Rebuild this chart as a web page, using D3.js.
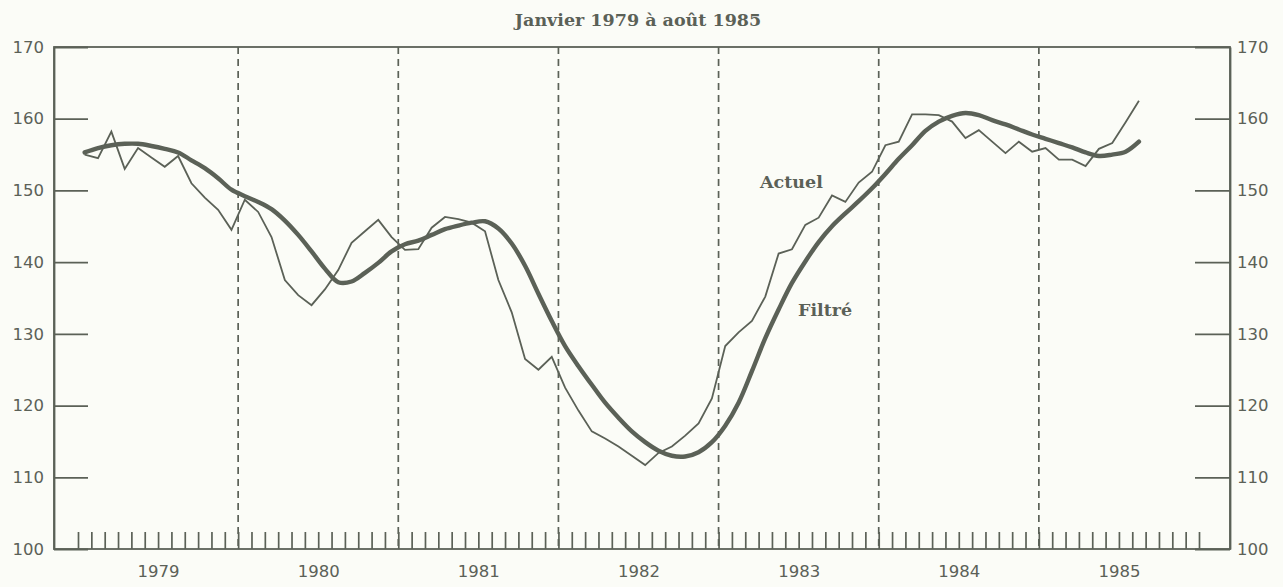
<!DOCTYPE html>
<html>
<head>
<meta charset="utf-8">
<script src="https://cdn.jsdelivr.net/npm/d3@7/dist/d3.min.js"></script>
<style>
  html, body { margin: 0; padding: 0; background: #fbfcf7; }
  svg { display: block; }
</style>
</head>
<body>
<svg id="chart" width="1283" height="587"></svg>
<script>
// ---- Data (monthly, Jan 1979 to Aug 1985) ----
const years = ["1979", "1980", "1981", "1982", "1983", "1984", "1985"];
const yTicks = [100, 110, 120, 130, 140, 150, 160, 170];
const titleText = "Janvier 1979 à août 1985";
const seriesNames = ["Actuel", "Filtré"];

const actual = [
  155.0, 154.5, 158.2, 153.0, 155.9, 154.6, 153.3, 154.8, 151.0, 149.0, 147.3, 144.5, // 1979
  148.7, 147.0, 143.5, 137.5, 135.4, 134.0, 136.2, 138.9, 142.7, 144.3, 145.9, 143.5, // 1980
  141.7, 141.8, 144.8, 146.3, 146.0, 145.5, 144.3, 137.5, 133.0, 126.5, 125.0, 126.8, // 1981
  122.5, 119.3, 116.4, 115.4, 114.3, 113.0, 111.7, 113.4, 114.3, 115.8, 117.5, 121.0, // 1982
  128.3, 130.2, 131.8, 135.2, 141.2, 141.8, 145.2, 146.2, 149.3, 148.4, 151.1, 152.6, // 1983
  156.3, 156.8, 160.6, 160.6, 160.5, 159.6, 157.3, 158.4, 156.8, 155.2, 156.8, 155.4, // 1984
  155.9, 154.3, 154.3, 153.4, 155.8, 156.6, 159.5, 162.5                               // 1985
];

const filtered = [
  155.3, 155.9, 156.3, 156.5, 156.5, 156.2, 155.8, 155.3, 154.2, 153.1, 151.7, 150.1, // 1979
  149.2, 148.4, 147.4, 145.8, 143.8, 141.5, 139.1, 137.2, 137.3, 138.5, 139.9, 141.5, // 1980
  142.5, 143.0, 143.8, 144.6, 145.1, 145.5, 145.7, 144.7, 142.6, 139.5, 135.6, 131.8, // 1981
  128.3, 125.5, 122.9, 120.4, 118.3, 116.4, 114.9, 113.7, 113.0, 112.9, 113.5, 114.9, // 1982
  117.2, 120.4, 124.8, 129.4, 133.4, 137.1, 140.1, 142.8, 145.0, 146.8, 148.5, 150.3, // 1983
  152.3, 154.4, 156.3, 158.3, 159.6, 160.4, 160.8, 160.5, 159.8, 159.2, 158.5, 157.8, // 1984
  157.2, 156.6, 156.0, 155.3, 154.8, 155.0, 155.4, 156.8                               // 1985
];

// ---- Layout ----
const W = 1283, H = 587;
const frame = { left: 54, right: 1230, top: 47, bottom: 549 };
const ink = "#5b6157";
const nMonths = years.length * 12;

const svg = d3.select("#chart");
svg.append("rect").attr("width", W).attr("height", H).attr("fill", "#fbfcf7");

const x = d3.scaleLinear().domain([0, nMonths]).range([78, 1199]);
const y = d3.scaleLinear().domain([100, 170]).range([frame.bottom, frame.top]);

// Frame
svg.append("rect")
  .attr("x", frame.left).attr("y", frame.top)
  .attr("width", frame.right - frame.left)
  .attr("height", frame.bottom - frame.top)
  .attr("fill", "none")
  .attr("stroke", ink).attr("stroke-width", 1.8);

// Left axis
const leftAxis = d3.axisLeft(y).tickValues(yTicks).tickFormat(d3.format("d"))
  .tickSizeInner(-34).tickSizeOuter(0).tickPadding(10);
const gL = svg.append("g").attr("transform", `translate(${frame.left},0)`).call(leftAxis);

// Right axis
const rightAxis = d3.axisRight(y).tickValues(yTicks).tickFormat(d3.format("d"))
  .tickSizeInner(-35).tickSizeOuter(0).tickPadding(7);
const gR = svg.append("g").attr("transform", `translate(${frame.right},0)`).call(rightAxis);

[gL, gR].forEach(g => {
  g.select(".domain").attr("stroke", ink).attr("stroke-width", 1.8);
  g.selectAll(".tick line").attr("stroke", ink).attr("stroke-width", 1.8);
  g.selectAll(".tick text")
    .attr("fill", ink)
    .style("font-family", "'DejaVu Sans', sans-serif")
    .style("font-size", "16.5px");
});

// Month ticks along the bottom
const monthAxis = d3.axisBottom(x).tickValues(d3.range(0, nMonths + 1))
  .tickFormat("").tickSizeInner(-17).tickSizeOuter(0);
const gM = svg.append("g").attr("transform", `translate(0,${frame.bottom})`).call(monthAxis);
gM.select(".domain").remove();
gM.selectAll(".tick line").attr("stroke", ink).attr("stroke-width", 1.7);

// Year labels centred under each year
const yearAxis = d3.axisBottom(x).tickValues(years.map((d, i) => i * 12 + 6))
  .tickFormat((d, i) => years[i]).tickSize(0).tickPadding(16);
const gY = svg.append("g").attr("transform", `translate(0,${frame.bottom})`).call(yearAxis);
gY.select(".domain").remove();
gY.selectAll(".tick text")
  .attr("fill", ink)
  .style("font-family", "'DejaVu Sans', sans-serif")
  .style("font-size", "16.5px");

// Dashed year separators
svg.append("g").selectAll("line")
  .data(d3.range(1, years.length))
  .join("line")
  .attr("x1", d => x(d * 12)).attr("x2", d => x(d * 12))
  .attr("y1", frame.top).attr("y2", frame.bottom)
  .attr("stroke", ink).attr("stroke-width", 1.7)
  .attr("stroke-dasharray", "7,5");

// Lines
const line = d3.line().x((d, i) => x(i + 0.5)).y(d => y(d));
svg.append("path").datum(actual)
  .attr("d", line).attr("fill", "none")
  .attr("stroke", ink).attr("stroke-width", 1.8).attr("stroke-linejoin", "miter");
svg.append("path").datum(filtered)
  .attr("d", line.curve(d3.curveCatmullRom)).attr("fill", "none")
  .attr("stroke", ink).attr("stroke-width", 4.4).attr("stroke-linecap", "round");

// Title
svg.append("text")
  .attr("x", 638).attr("y", 26)
  .attr("text-anchor", "middle")
  .attr("fill", ink)
  .style("font-family", "'DejaVu Serif', serif")
  .style("font-weight", "bold")
  .style("font-size", "17.5px")
  .text(titleText);

// Series labels
svg.append("text")
  .attr("x", 760).attr("y", 188)
  .attr("fill", ink)
  .style("font-family", "'DejaVu Serif', serif")
  .style("font-weight", "bold")
  .style("font-size", "17.5px")
  .text(seriesNames[0]);
svg.append("text")
  .attr("x", 798).attr("y", 316)
  .attr("fill", ink)
  .style("font-family", "'DejaVu Serif', serif")
  .style("font-weight", "bold")
  .style("font-size", "17.5px")
  .text(seriesNames[1]);
</script>
</body>
</html>
